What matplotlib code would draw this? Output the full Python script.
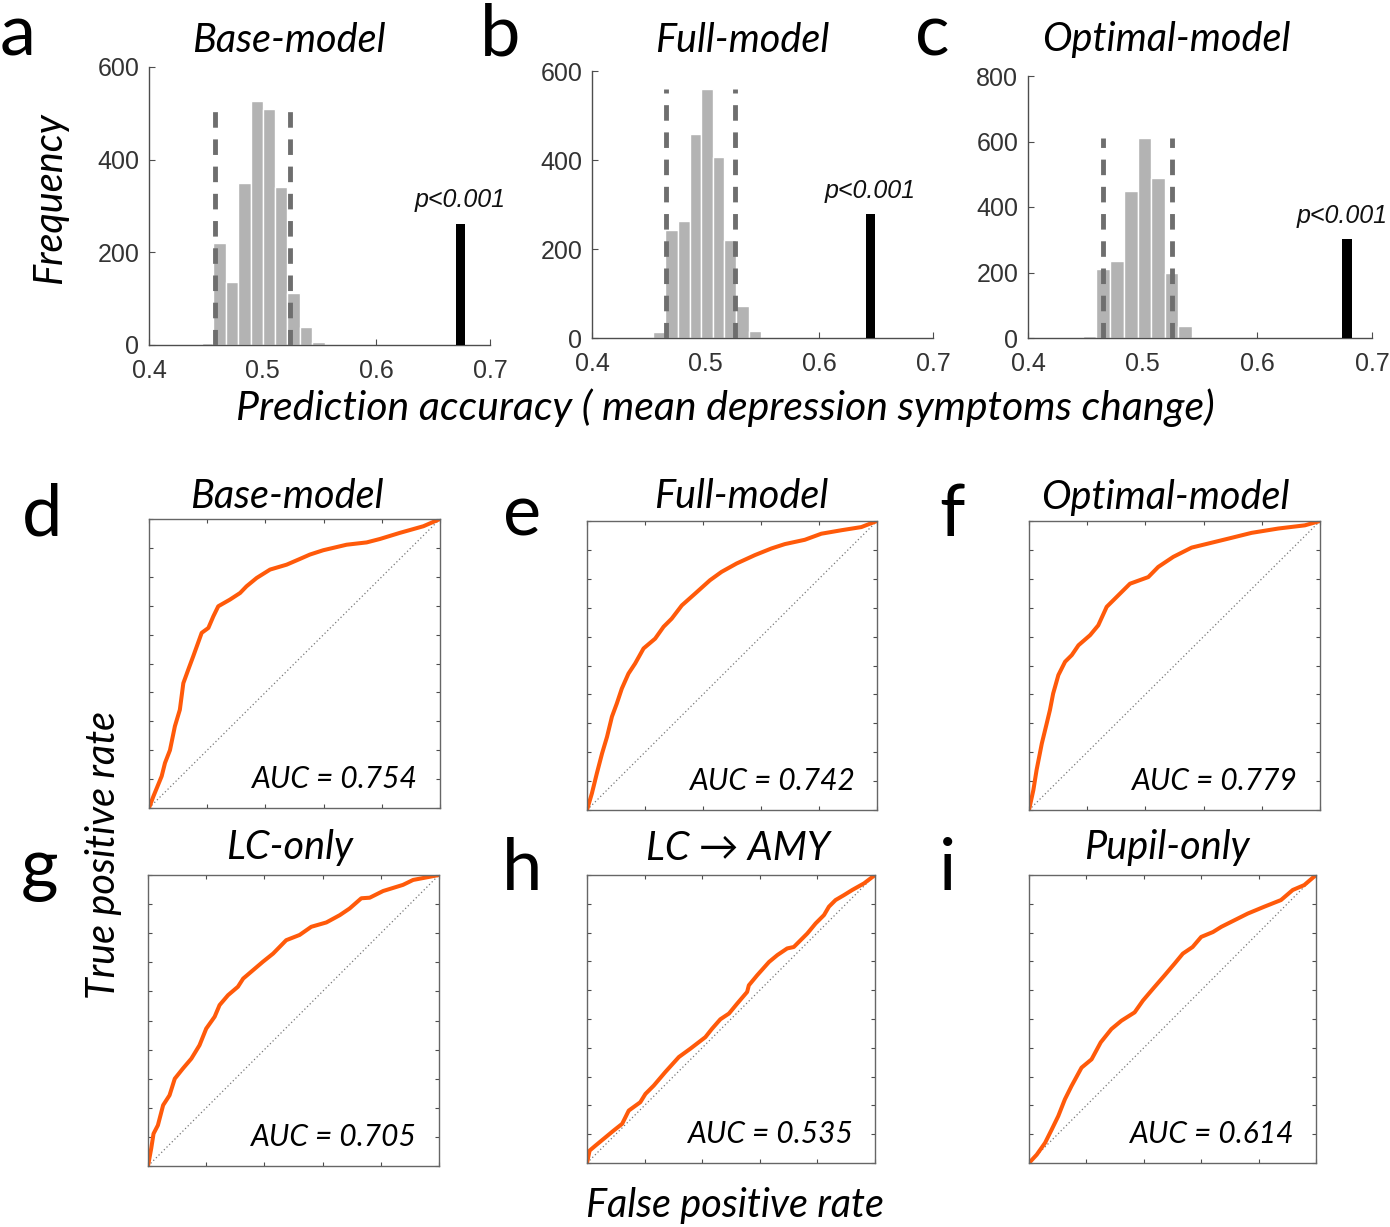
import matplotlib
matplotlib.use("Agg")
import matplotlib.pyplot as plt
import numpy as np

W, H = 1390, 1227
DPI = 100

# ---------------- histogram data ----------------
hist_titles = ["Base-model", "Full-model", "Optimal-model"]
hist_letters = ["a", "b", "c"]

a_edges = [0.4462, 0.4565, 0.4676, 0.4785, 0.4894, 0.5000, 0.5109, 0.5218, 0.5329, 0.5438, 0.5550]
a_counts = [4, 221, 135, 349, 526, 510, 342, 113, 39, 7]
a_ci = [0.4579, 0.5241]
a_obs = 0.674
a_obs_h = 262

b_edges = [0.4537, 0.4645, 0.4754, 0.4859, 0.4962, 0.5065, 0.5164, 0.5270, 0.5378, 0.5487]
b_counts = [13, 243, 262, 458, 559, 407, 220, 73, 16]
b_ci = [0.4651, 0.5261]
b_obs = 0.645
b_obs_h = 278

c_edges = [0.4480, 0.4596, 0.4718, 0.4834, 0.4956, 0.5073, 0.5192, 0.5308, 0.5430, 0.5547]
c_counts = [7, 211, 235, 450, 610, 489, 198, 36, 2]
c_ci = [0.4654, 0.5259]
c_obs = 0.678
c_obs_h = 303

hist_ylims = [600, 600, 800]
hist_yticks = [[0, 200, 400, 600], [0, 200, 400, 600], [0, 200, 400, 600, 800]]
x_ticks = [0.4, 0.5, 0.6, 0.7]

# ---------------- ROC data ----------------
roc_titles = ["Base-model", "Full-model", "Optimal-model", "LC-only", "LC \u2192 AMY", "Pupil-only"]
roc_letters = ["d", "e", "f", "g", "h", "i"]
roc_auc = ["0.754", "0.742", "0.779", "0.705", "0.535", "0.614"]

d_fpr = [0, 0.015, 0.0435, 0.055, 0.072, 0.089, 0.106, 0.118, 0.135, 0.152, 0.181, 0.204, 0.221, 0.238,
         0.278, 0.313, 0.335, 0.37, 0.416, 0.473, 0.519, 0.553, 0.599, 0.679, 0.748, 0.794, 0.862, 0.943, 1]
d_tpr = [0, 0.04, 0.11, 0.156, 0.20, 0.283, 0.34, 0.432, 0.479, 0.525, 0.606, 0.623, 0.663, 0.698,
         0.721, 0.744, 0.767, 0.796, 0.825, 0.842, 0.862, 0.877, 0.892, 0.911, 0.919, 0.931, 0.952, 0.975, 1]

e_fpr = [0, 0.017, 0.034, 0.052, 0.069, 0.086, 0.103, 0.12, 0.143, 0.166, 0.195, 0.235, 0.264, 0.292,
         0.327, 0.373, 0.424, 0.464, 0.516, 0.579, 0.636, 0.682, 0.751, 0.808, 0.877, 0.946, 1]
e_tpr = [0, 0.058, 0.127, 0.196, 0.253, 0.323, 0.369, 0.42, 0.472, 0.507, 0.559, 0.593, 0.634, 0.662,
         0.708, 0.749, 0.795, 0.824, 0.853, 0.882, 0.905, 0.92, 0.935, 0.956, 0.968, 0.979, 1]

f_fpr = [0, 0.015, 0.026, 0.044, 0.061, 0.072, 0.083, 0.101, 0.124, 0.147, 0.17, 0.21, 0.238, 0.267,
         0.307, 0.347, 0.41, 0.444, 0.496, 0.559, 0.616, 0.685, 0.765, 0.857, 0.948, 1]
f_tpr = [0, 0.069, 0.138, 0.23, 0.3, 0.346, 0.403, 0.467, 0.513, 0.536, 0.57, 0.605, 0.639, 0.703,
         0.743, 0.783, 0.806, 0.841, 0.876, 0.908, 0.922, 0.939, 0.959, 0.974, 0.985, 1]

g_fpr = [0, 0.011, 0.019, 0.034, 0.052, 0.074, 0.092, 0.12, 0.149, 0.177, 0.2, 0.229, 0.246, 0.275,
         0.309, 0.327, 0.361, 0.395, 0.43, 0.475, 0.521, 0.561, 0.613, 0.659, 0.693, 0.733, 0.762,
         0.808, 0.876, 0.911, 1]
g_tpr = [0, 0.06, 0.111, 0.14, 0.209, 0.243, 0.3, 0.335, 0.369, 0.415, 0.472, 0.513, 0.553, 0.587,
         0.616, 0.644, 0.673, 0.702, 0.73, 0.776, 0.794, 0.822, 0.837, 0.862, 0.885, 0.92, 0.922,
         0.945, 0.966, 0.983, 1]

h_fpr = [0, 0.009, 0.029, 0.058, 0.093, 0.122, 0.145, 0.185, 0.203, 0.232, 0.272, 0.319, 0.359, 0.411,
         0.434, 0.463, 0.493, 0.521, 0.556, 0.562, 0.591, 0.632, 0.661, 0.695, 0.718, 0.765, 0.794,
         0.823, 0.84, 0.863, 0.892, 0.921, 0.962, 1]
h_tpr = [0, 0.043, 0.06, 0.084, 0.113, 0.136, 0.182, 0.211, 0.24, 0.269, 0.316, 0.368, 0.397, 0.437,
         0.466, 0.499, 0.519, 0.553, 0.594, 0.617, 0.652, 0.698, 0.722, 0.745, 0.75, 0.797, 0.832,
         0.861, 0.89, 0.913, 0.93, 0.948, 0.971, 1]

i_fpr = [0, 0.027, 0.056, 0.079, 0.102, 0.125, 0.148, 0.183, 0.218, 0.25, 0.287, 0.322, 0.368, 0.397,
         0.432, 0.472, 0.507, 0.536, 0.57, 0.6, 0.641, 0.67, 0.716, 0.762, 0.82, 0.878, 0.919, 0.959, 1]
i_tpr = [0, 0.029, 0.07, 0.116, 0.163, 0.221, 0.267, 0.331, 0.36, 0.419, 0.465, 0.494, 0.523, 0.564,
         0.605, 0.651, 0.692, 0.727, 0.75, 0.785, 0.802, 0.82, 0.843, 0.866, 0.89, 0.913, 0.948, 0.965, 1]

# ---------------- styling ----------------
SANS = ["Lato", "Open Sans", "DejaVu Sans"]
ARIAL = ["Liberation Sans", "DejaVu Sans"]
SPINE = "#4d4d4d"
BAR = "#b3b3b3"
DASH = "#6e6e6e"
ORANGE = "#ff5a0a"
BIG = 28.5

fig = plt.figure(figsize=(W / DPI, H / DPI), dpi=DPI)


def add_ax(l, t, r, b):
    return fig.add_axes([l / W, 1 - b / H, (r - l) / W, (b - t) / H])


def ftext(x, y, s, **kw):
    fig.text(x / W, 1 - y / H, s, **kw)


# ---------------- histograms ----------------
hist_boxes = [(149, 67, 490, 345), (592, 71, 933, 338), (1028, 76, 1372, 338)]
hist_data = [(a_edges, a_counts, a_ci, a_obs, a_obs_h),
             (b_edges, b_counts, b_ci, b_obs, b_obs_h),
             (c_edges, c_counts, c_ci, c_obs, c_obs_h)]
p_shift = [0, 0, -3]

for k, (box, (edges, counts, ci, obs, obs_h)) in enumerate(zip(hist_boxes, hist_data)):
    ax = add_ax(*box)
    edges = np.asarray(edges)
    widths = np.diff(edges)
    ax.bar(edges[:-1], counts, width=widths, align="edge", color=BAR,
           edgecolor="white", linewidth=1.0, zorder=2)
    top = max(counts)
    for c in ci:
        ax.plot([c, c], [0, top], ls=(0, (3.2, 2.4)), color=DASH, lw=3.5, zorder=3)
    ax.bar([obs], [obs_h], width=0.0085, color="black", zorder=3)
    ax.annotate("p<0.001", (obs, obs_h), xytext=(p_shift[k], 8), textcoords="offset points",
                ha="center", va="bottom", fontsize=18, style="italic",
                family=ARIAL, color="#111111", annotation_clip=False)
    ax.set_xlim(0.4, 0.7)
    ax.set_ylim(0, hist_ylims[k])
    ax.set_xticks(x_ticks)
    ax.set_xticklabels([f"{t:.1f}" for t in x_ticks])
    ax.set_yticks(hist_yticks[k])
    for s in ["top", "right"]:
        ax.spines[s].set_visible(False)
    for s in ["left", "bottom"]:
        ax.spines[s].set_color(SPINE)
        ax.spines[s].set_linewidth(1.0)
    ax.tick_params(direction="in", length=4, color=SPINE, labelsize=18,
                   labelcolor="#333333")
    ax.tick_params(axis="x", pad=10)
    ax.tick_params(axis="y", pad=7)
    for lab in ax.get_xticklabels() + ax.get_yticklabels():
        lab.set_family(ARIAL)
    ax.patch.set_alpha(0)

hist_title_x = [289, 742, 1166]
for k in range(3):
    ftext(hist_title_x[k], 40, hist_titles[k], ha="center", va="center",
          fontsize=BIG, style="italic", family=SANS)

ftext(18, 35, "a", ha="center", va="center", fontsize=52, family=SANS)
ftext(500, 35, "b", ha="center", va="center", fontsize=52, family=SANS)
ftext(932, 35, "c", ha="center", va="center", fontsize=52, family=SANS)

ftext(50, 198, "Frequency", ha="center", va="center", rotation=90,
      fontsize=BIG, style="italic", family=SANS)
ftext(725, 408, "Prediction accuracy ( mean depression symptoms change)", ha="center",
      va="center", fontsize=29.5, style="italic", family=SANS)

# ---------------- ROC panels ----------------
roc_boxes = [(149, 519, 440, 808), (587, 521, 877, 810), (1029, 521, 1320, 810),
             (148, 875, 439, 1166), (587, 875, 875, 1163), (1029, 875, 1316, 1163)]
roc_data = [(d_fpr, d_tpr), (e_fpr, e_tpr), (f_fpr, f_tpr),
            (g_fpr, g_tpr), (h_fpr, h_tpr), (i_fpr, i_tpr)]
letter_pos = [(42, 515), (522, 515), (952, 515), (40, 870), (522, 870), (948, 870)]
roc_title_x = [287, 741, 1165, 290, 738, 1167]
roc_title_y = [497, 497, 497, 848, 848, 848]

for k, (box, (fpr, tpr)) in enumerate(zip(roc_boxes, roc_data)):
    ax = add_ax(*box)
    ax.plot([0, 1], [0, 1], ls=(0, (1, 2)), color="#777777", lw=0.9, zorder=1)
    ax.plot(fpr, tpr, color=ORANGE, lw=2.9, solid_joinstyle="round",
            solid_capstyle="round", zorder=2)
    ax.set_xlim(0, 1)
    ax.set_ylim(0, 1)
    ax.set_xticks(np.arange(0, 1.01, 0.2))
    ax.set_yticks(np.arange(0, 1.01, 0.1))
    ax.tick_params(direction="in", length=3, color=SPINE, top=True, right=True,
                   labelbottom=False, labelleft=False)
    for s in ax.spines.values():
        s.set_color("#666666")
        s.set_linewidth(1.0)
    ax.text(0.64, 0.10, f"AUC = {roc_auc[k]}", transform=ax.transAxes, ha="center",
            va="center", fontsize=21.5, style="italic", family=SANS)
    ftext(roc_title_x[k], roc_title_y[k], roc_titles[k], ha="center", va="center",
          fontsize=BIG, style="italic", family=SANS)
    lx, ly = letter_pos[k]
    ftext(lx, ly, roc_letters[k], ha="center", va="center", fontsize=52, family=SANS)

ftext(103, 855, "True positive rate", ha="center", va="center", rotation=90,
      fontsize=BIG, style="italic", family=SANS)
ftext(735, 1205, "False positive rate", ha="center", va="center",
      fontsize=BIG, style="italic", family=SANS)

fig.savefig("out.png", dpi=DPI)
